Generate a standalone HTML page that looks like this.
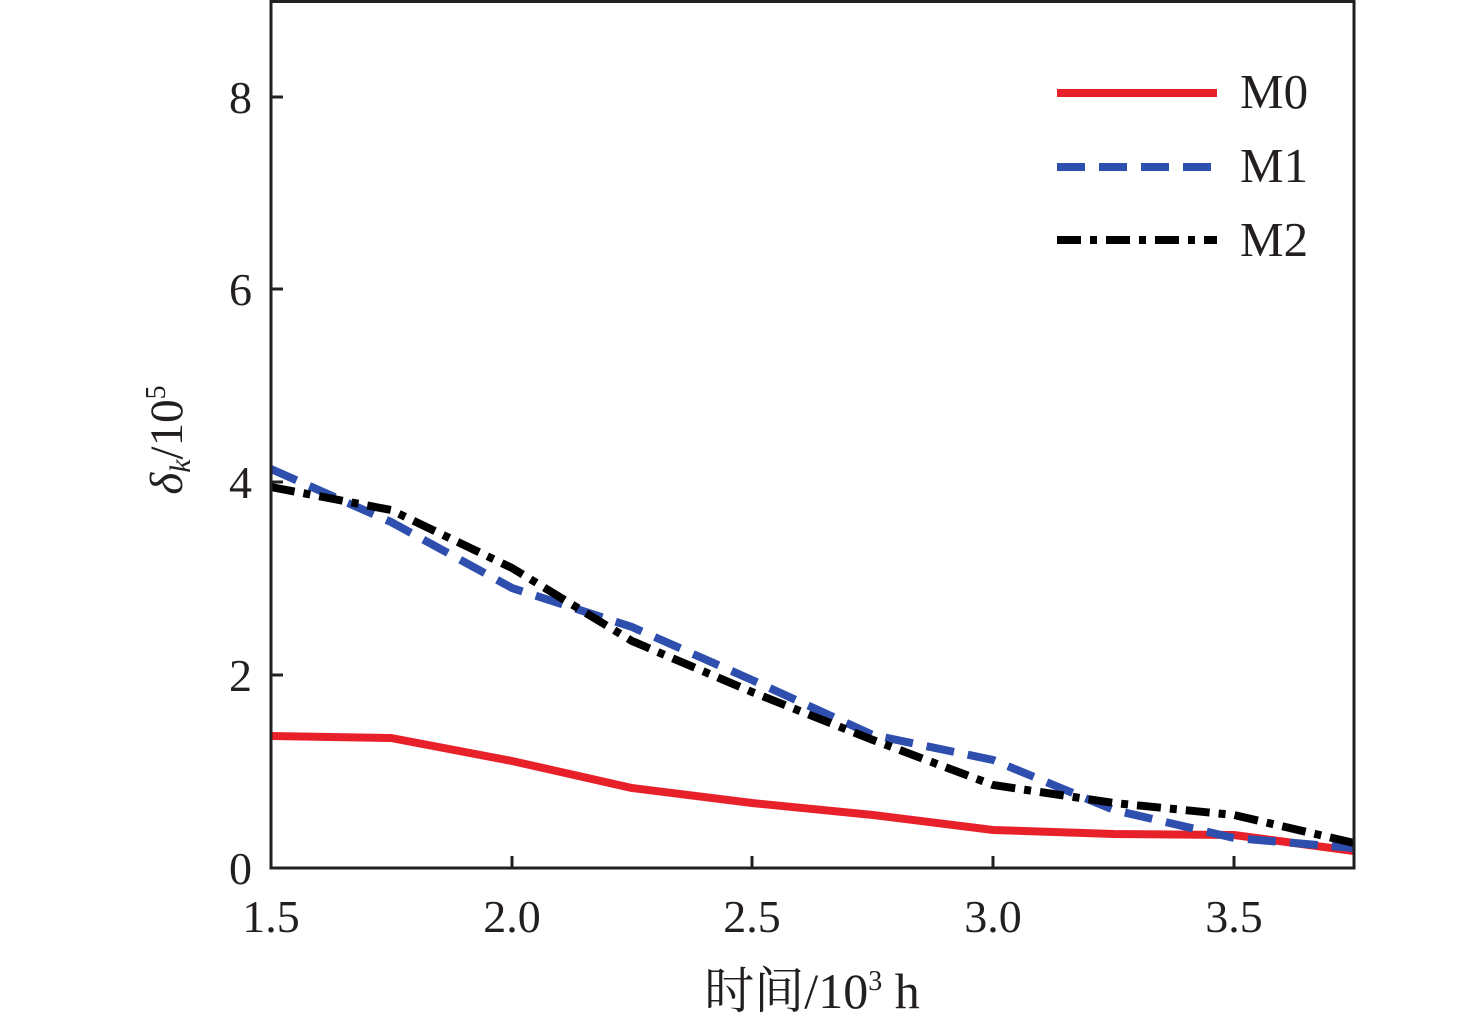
<!DOCTYPE html>
<html><head><meta charset="utf-8"><style>body{margin:0;background:#fff}svg{display:block}</style></head>
<body>
<svg width="1476" height="1026" viewBox="0 0 1476 1026" xmlns="http://www.w3.org/2000/svg" font-family="'Liberation Serif','Noto Serif CJK SC',serif">
<defs><clipPath id="c"><rect x="271" y="1" width="1083" height="867"/></clipPath></defs>
<g clip-path="url(#c)" fill="none" stroke-width="8">
<polyline stroke="#e8202a" points="271,736 391,738 512,761 632,788 752,803 873,815 993,830 1114,834 1234,835 1354,851"/>
<polyline stroke="#2f4fae" stroke-dasharray="28,14" points="271,469 391,522 512,588 632,627 752,680 873,735 993,760 1114,810 1234,838 1354,848"/>
<polyline stroke="#000" stroke-dasharray="24,9,7,9" points="271,487 391,510 512,568 632,641 752,692 873,740 993,785 1114,803 1234,815 1354,843"/>
</g>
<rect x="271" y="1.5" width="1083" height="866.5" fill="none" stroke="#231f20" stroke-width="3"/>
<g stroke="#231f20" stroke-width="3">
<line x1="271" y1="675" x2="283" y2="675"/><line x1="271" y1="482" x2="283" y2="482"/><line x1="271" y1="289" x2="283" y2="289"/><line x1="271" y1="97" x2="283" y2="97"/>
<line x1="512" y1="868" x2="512" y2="856"/><line x1="752" y1="868" x2="752" y2="856"/><line x1="993" y1="868" x2="993" y2="856"/><line x1="1234" y1="868" x2="1234" y2="856"/>
</g>
<g font-size="46" fill="#231f20" text-anchor="end">
<text x="252" y="884">0</text><text x="252" y="691">2</text><text x="252" y="498">4</text><text x="252" y="305">6</text><text x="252" y="113">8</text>
</g>
<g font-size="46" fill="#231f20" text-anchor="middle">
<text x="271" y="932">1.5</text><text x="512" y="932">2.0</text><text x="752" y="932">2.5</text><text x="993" y="932">3.0</text><text x="1234" y="932">3.5</text>
</g>
<text x="812" y="1008" font-size="50" fill="#231f20" text-anchor="middle">时间/10<tspan font-size="28" dy="-18">3</tspan><tspan dy="18"> h</tspan></text>
<text transform="translate(182,440) rotate(-90)" font-size="47" fill="#231f20" text-anchor="middle"><tspan font-style="italic">δ</tspan><tspan font-style="italic" font-size="30" dy="8">k</tspan><tspan dy="-8">/10</tspan><tspan font-size="28" dy="-17">5</tspan></text>
<g stroke-width="8">
<line x1="1057" y1="93" x2="1217" y2="93" stroke="#e8202a"/>
<line x1="1057" y1="167" x2="1217" y2="167" stroke="#2f4fae" stroke-dasharray="28,14"/>
<line x1="1057" y1="240" x2="1217" y2="240" stroke="#000" stroke-dasharray="24,9,7,9"/>
</g>
<g font-size="49" fill="#231f20">
<text x="1240" y="108">M0</text><text x="1240" y="182">M1</text><text x="1240" y="256">M2</text>
</g>
</svg>
</body></html>
